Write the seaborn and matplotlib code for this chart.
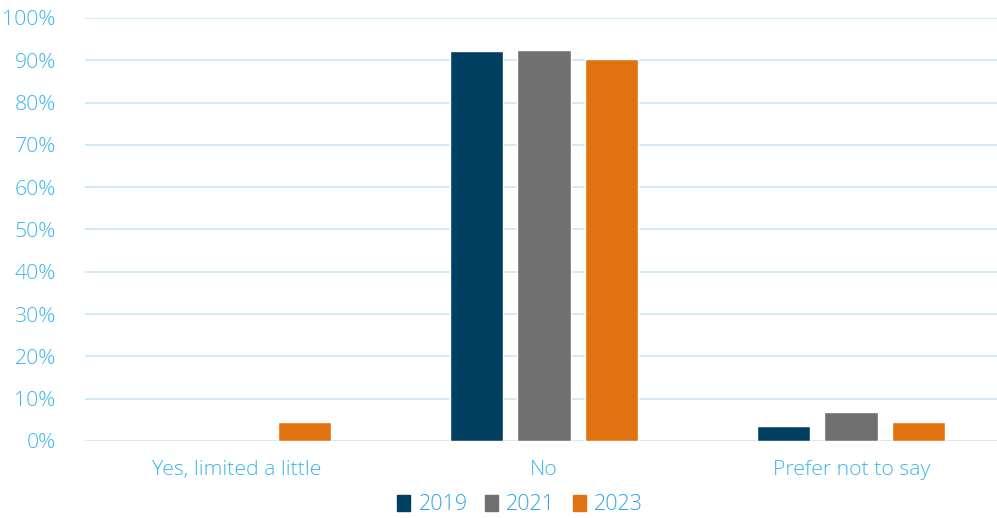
import matplotlib
matplotlib.use("Agg")
import matplotlib.pyplot as plt
import seaborn as sns
import pandas as pd
import numpy as np

categories = ["Yes, limited a little", "No", "Prefer not to say"]
years = ["2019", "2021", "2023"]
values_2019 = [np.nan, 92.2, 3.5]
values_2021 = [np.nan, 92.5, 6.8]
values_2023 = [4.6, 90.2, 4.6]
yticks = [0, 10, 20, 30, 40, 50, 60, 70, 80, 90, 100]
colors = ["#003f5f", "#707070", "#e07212"]

rows = []
for yr, vals in zip(years, [values_2019, values_2021, values_2023]):
    for c, v in zip(categories, vals):
        rows.append({"cat": c, "year": yr, "val": v})
df = pd.DataFrame(rows)

sns.set_theme(style="white")
plt.rcParams["font.family"] = ["Open Sans", "DejaVu Sans"]
plt.rcParams["font.weight"] = "light"

tick_color = "#3cb4ee"
fig = plt.figure(figsize=(9.97, 5.18), dpi=100)
ax = fig.add_axes([85 / 997, 1 - 441 / 518, (997 - 85) / 997, (441 - 18) / 518])

sns.barplot(data=df, x="cat", y="val", hue="year", palette=colors, ax=ax,
            width=0.66, gap=0.21, order=categories, hue_order=years, saturation=1)

ax.set_ylim(0, 100)
ax.set_xlim(-0.495, 2.475)
ax.set_yticks(yticks)
ax.set_yticklabels([f"{t}%" for t in yticks])
ax.yaxis.grid(True, color="#cdeaf8", linewidth=1.3)
ax.set_axisbelow(True)
for s in ax.spines.values():
    s.set_visible(False)
ax.tick_params(axis="both", length=0, colors=tick_color, labelsize=15.3)
ax.tick_params(axis="y", pad=21)
ax.tick_params(axis="x", pad=14)
for lab in ax.get_xticklabels() + ax.get_yticklabels():
    lab.set_fontweight("light")
ax.set_xlabel("")
ax.set_ylabel("")
ax.legend_.remove()

handles = [plt.Rectangle((0, 0), 1, 1, color=c) for c in colors]
leg = fig.legend(handles, years, loc="center", bbox_to_anchor=(520 / 997, 1 - 505 / 518),
                 ncol=3, frameon=False, handlelength=0.6, handleheight=0.75,
                 handletextpad=0.4, columnspacing=0.8,
                 prop={"family": ["Open Sans", "DejaVu Sans"], "weight": "light", "size": 15.5})
for t in leg.get_texts():
    t.set_color("#2fa6e6")

fig.savefig("out.png", dpi=100)
